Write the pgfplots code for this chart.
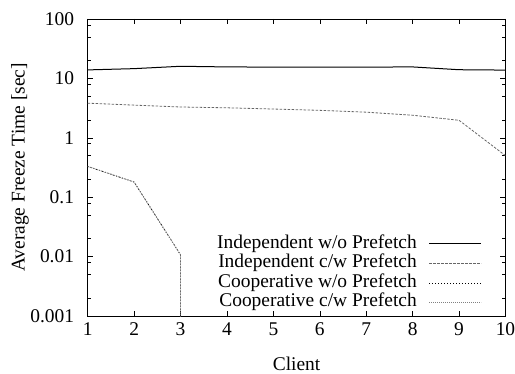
\documentclass[border=0pt]{standalone}
\usepackage{fontspec}
\setmainfont{Liberation Serif}
\usepackage{pgfplots}
\pgfplotsset{compat=1.18}
\begin{document}
\begin{tikzpicture}
\useasboundingbox (-87.7bp,-58bp) rectangle (427.3bp,316bp);
\begin{axis}[
  at={(0,0)}, anchor=south west,
  scale only axis, width=417.8bp, height=297bp,
  ymode=log, xmin=1, xmax=10, ymin=0.001, ymax=100,
  font=\fontsize{19.5}{22}\selectfont,
  /pgf/number format/assume math mode=true,
  xtick={1,...,10},
  ytick={0.001,0.01,0.1,1,10,100},
  yticklabels={0.001,0.01,0.1,1,10,100},
  minor ytick={0.002,0.005,0.008,0.02,0.05,0.08,0.2,0.5,0.8,2,5,8,20,50,80},
  yticklabel style={anchor=east, inner sep=0pt, xshift=-13.5bp},
  xticklabel style={anchor=north, inner sep=0pt, yshift=-6.5bp},
  tick align=inside, major tick length=5bp, minor tick length=3bp,
  tick style={black, line width=0.5bp},
  axis line style={line width=0.9bp},
  xlabel={Client}, ylabel={Average Freeze Time [sec]},
  x label style={at={(axis description cs:0.5,-0.183)}, anchor=base, inner sep=0pt},
  y label style={at={(axis description cs:-0.162,0.5)}, anchor=center},
  legend cell align=right, legend plot pos=right,
  legend style={draw=none, fill=none, at={(axis description cs:0.9437,0.012)}, anchor=south east,
    inner sep=0pt, row sep=0pt, column sep=12bp,
    nodes={inner sep=0pt, text height=14bp, text depth=5.5bp}},
  legend image code/.code={\draw[#1] (0bp,0bp) -- (52bp,0bp);},
  clip=true,
]
\addplot[black, line width=1bp] coordinates {(1,13.9) (2,14.6) (3,16.0) (4,15.6) (5,15.5) (6,15.5) (7,15.5) (8,15.6) (9,14.0) (10,13.8)};
\addlegendentry{Independent w/o Prefetch}
\addplot[black!60, line width=0.8bp, dash pattern=on 2.5bp off 1.5bp] coordinates {(1,3.83) (2,3.55) (3,3.3) (4,3.2) (5,3.05) (6,2.9) (7,2.7) (8,2.4) (9,1.97) (10,0.5)};
\addlegendentry{Independent c/w Prefetch}
\addplot[black, line width=0.8bp, dash pattern=on 1bp off 2bp] coordinates {(1,0.33) (2,0.18) (3,0.0107) (3,0.00001)};
\addlegendentry{Cooperative w/o Prefetch}
\addplot[black!50, line width=0.8bp, dash pattern=on 1bp off 1bp] coordinates {(1,0.33) (2,0.18) (3,0.0107) (3,0.00001)};
\addlegendentry{Cooperative c/w Prefetch}
\end{axis}
\end{tikzpicture}
\end{document}
